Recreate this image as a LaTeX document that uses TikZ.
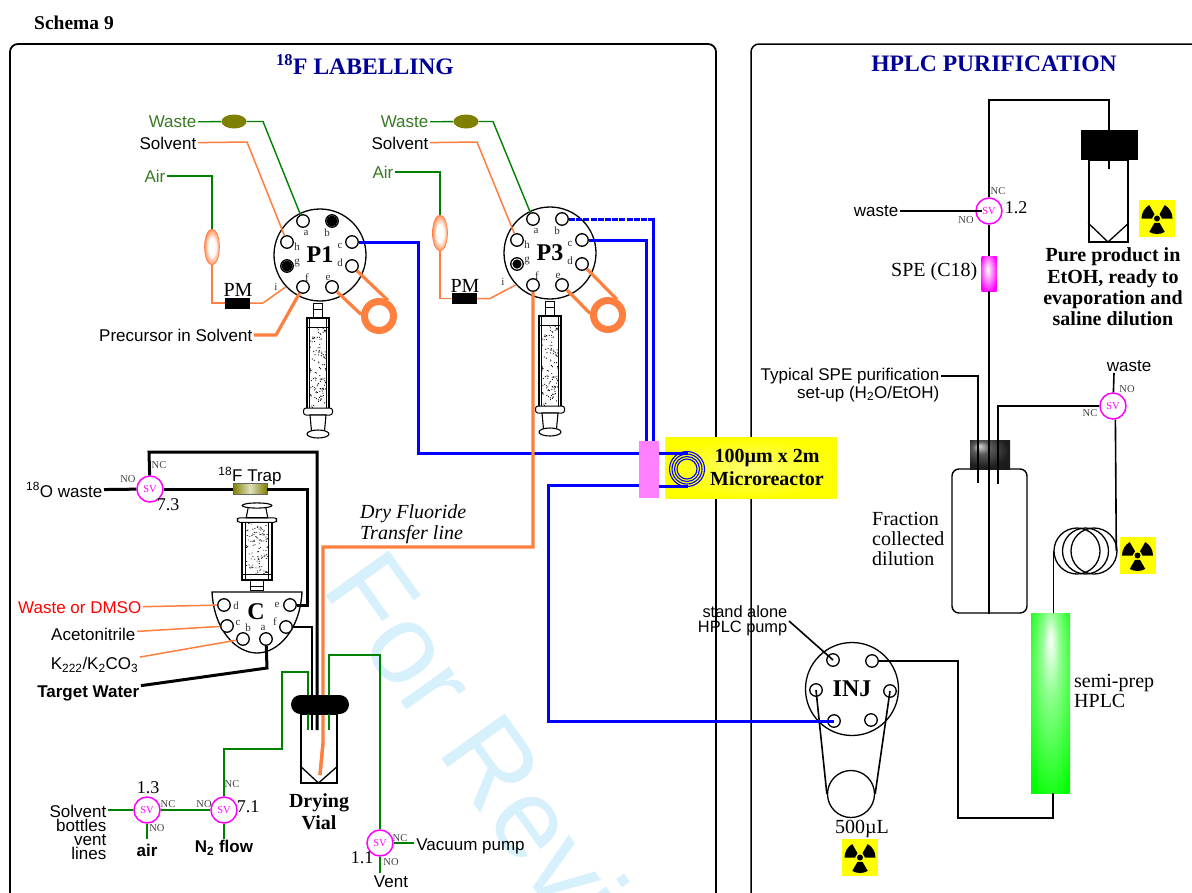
\documentclass[tikz,border=0pt]{standalone}
\usepackage{fontspec}
\setmainfont{Liberation Serif}
\setsansfont{Liberation Sans}
\usetikzlibrary{shapes.geometric}
\definecolor{pipeorange}{RGB}{255,127,63}
\definecolor{pipegreen}{RGB}{0,128,0}
\definecolor{labgreen}{RGB}{56,122,36}
\definecolor{wasteolive}{RGB}{128,128,0}
\definecolor{titleblue}{RGB}{0,0,153}
\definecolor{pinkblock}{RGB}{255,128,255}
\definecolor{stampblue}{RGB}{214,240,252}
\definecolor{svpink}{RGB}{255,0,255}
\definecolor{signyellow}{RGB}{255,255,0}
\newcommand{\pxfont}[2]{\fontsize{#1}{#2}\selectfont}
\pgfdeclareradialshading{columnglow}{\pgfpoint{0bp}{18bp}}{color(0bp)=(white); color(12bp)=(green!45!white); color(36bp)=(green); color(50bp)=(green)}
\pgfdeclareradialshading{capglow}{\pgfpoint{-14bp}{15bp}}{color(0bp)=(white!85!black); color(11bp)=(black!65); color(28bp)=(black!88); color(50bp)=(black!92)}
\pgfdeclareradialshading{speglow}{\pgfpoint{-5bp}{6bp}}{color(0bp)=(white); color(16bp)=(svpink!50!white); color(30bp)=(svpink); color(50bp)=(svpink)}
\pgfdeclareradialshading{ovalglow}{\pgfpoint{0bp}{0bp}}{color(0bp)=(white); color(12bp)=(white); color(27bp)=(pipeorange); color(50bp)=(pipeorange)}
\tikzset{
  sanslab/.style={font=\sffamily\pxfont{17}{14},inner sep=1.5pt,align=right},
  seriflab/.style={font=\pxfont{20}{20},inner sep=1.5pt,align=left},
  boldlab/.style={font=\bfseries\pxfont{20}{21.5},inner sep=0pt,align=center},
  tag/.style={font=\pxfont{10.5}{10.5},inner sep=0pt,text=black!75},
  svnum/.style={font=\pxfont{18}{18},inner sep=0pt},
  valve/.style={circle,draw,line width=1.3,fill=white,minimum size=92,inner sep=0pt,font=\bfseries\pxfont{24}{24}},
  port/.style={circle,draw,line width=1.3,fill=white,minimum size=12.5,inner sep=0pt},
  portlet/.style={font=\pxfont{11}{11},inner sep=0pt,text=black!80},
  sv/.style={circle,draw=svpink,line width=1.5,fill=white,minimum size=26,inner sep=0pt,text=svpink,font=\pxfont{10.5}{10.5}},
  thinorange/.style={draw=pipeorange,line width=1.5},
  thickorange/.style={draw=pipeorange,line width=3.2},
  greenpipe/.style={draw=pipegreen,line width=1.4},
  bluepipe/.style={draw=blue,line width=3},
  blackpipe/.style={draw=black,line width=1.6},
  fatpipe/.style={draw=black,line width=3},
  pmblock/.style={fill=black,minimum width=25,minimum height=11,inner sep=0pt},
  oliveoval/.style={ellipse,fill=wasteolive,minimum width=25,minimum height=14,inner sep=0pt},
  airoval/.style={ellipse,draw=pipeorange,line width=.6,shading=ovalglow,minimum width=15,minimum height=36,inner sep=0pt},
  ring/.style={circle,draw=pipeorange,line width=7,minimum size=29,inner sep=0pt},
  capblock/.style={fill=black,inner sep=0pt},
  pics/syringe/.style={code={
    \pgfmathsetseed{11}
    \draw[line width=.9,fill=white] (-4.5,0) rectangle (4.5,15);
    \draw[line width=.6] (-4.5,6) -- (4.5,6);
    \draw[line width=1.7,fill=white] (-11,15) rectangle (11,107);
    \draw[line width=.8] (-8.5,15) -- (-8.5,107) (8.5,15) -- (8.5,107) (-11,24) -- (11,24);
    \foreach \i in {1,...,115} \fill ({8*rand},{65+40*rand}) circle (.6);
    \draw[line width=1,fill=white,rounded corners=2.5] (-14.5,105) rectangle (14.5,112);
    \draw[line width=1.1,fill=white] (-8,112) -- (-6.5,128) -- (6.5,128) -- (8,112) -- cycle;
    \draw[line width=1.1,fill=white] (0,131) ellipse (11 and 4);
  }},
  pics/radsign/.style={code={
    \begin{scope}[x=1pt,y=1pt]
      \fill[signyellow] (-18,-18.5) rectangle (18,18.5);
      \foreach \a in {30,150,270}
        \fill (\a-30:5) -- (\a-30:15.5) arc[start angle=\a-30,end angle=\a+30,radius=15.5] -- (\a+30:5) -- cycle;
      \fill (0,0) circle (3);
    \end{scope}
  }}
}
\begin{document}
\begin{tikzpicture}[x=1pt,y=-1pt]
  \useasboundingbox (0,0) rectangle (1192,892);
  \clip (0,0) rectangle (1192,892);
  \fill[white] (0,0) rectangle (1192,892);
  \node[rotate=-54.5,anchor=base west,inner sep=0pt,text=stampblue,font=\sffamily\pxfont{113}{113}] (stamp) at (320,588) {For Revi};
  \draw[line width=1.8,rounded corners=8] (10,44) rectangle (716,960);
  \draw[line width=1.5,rounded corners=8] (751,44) rectangle (1300,960);
  \node[anchor=west,inner sep=0pt,font=\bfseries\pxfont{19.5}{19.5}] (schema) at (34,23) {Schema 9};
  \node[text=titleblue,inner sep=0pt,font=\bfseries\pxfont{23.6}{23.6}] (titleL) at (365,65) {\textsuperscript{18}F LABELLING};
  \node[text=titleblue,inner sep=0pt,font=\bfseries\pxfont{23.6}{23.6}] (titleR) at (994,64) {HPLC PURIFICATION};

  % the two eight port valves
  \foreach \v/\cx/\cy in {P1/320/255,P3/550/253} {
    \node[valve] (\v) at (\cx,\cy) {\v};
    \foreach \p/\dx/\dy/\lx/\ly in {a/-17/-34/-14/-22,b/12/-34/7/-22,c/32/-13/20/-9,d/32/11/20/8,e/12/32/8/23,f/-17/32/-13/23,g/-33/11/-23/8,h/-33/-13/-23/-8} {
      \node[port] (\v\p) at ({\cx+\dx},{\cy+\dy}) {};
      \node[portlet] (\v\p txt) at ({\cx+\lx},{\cy+\ly}) {\p};
    }
  }
  \node[portlet] (P1itxt) at (276,287) {i};
  \node[portlet] (P3itxt) at (503,282) {i};
  \fill (P1b) circle (5.6);
  \fill (P1g) circle (5.6);
  \fill (P3g) circle (4.6);

  % P1 lines
  \node[sanslab,anchor=east,text=labgreen] (wasteA) at (198,122) {Waste};
  \node[sanslab,anchor=east] (solvA) at (198,143) {Solvent};
  \node[sanslab,anchor=east,text=labgreen] (airA) at (167,176) {Air};
  \node[oliveoval] (oliveA) at (234,121.5) {};
  \node[airoval] (ovalA) at (212,247) {};
  \node[pmblock] (pmA) at (237.5,303) {};
  \node[font=\pxfont{20}{20},inner sep=0pt] (pmtxtA) at (238,290) {PM};
  \node[sanslab,anchor=east] (precA) at (254,335) {Precursor in Solvent};
  \node[ring] (ringA) at (379,316) {};
  \draw[greenpipe] (wasteA) -- (oliveA) -- (263,121.5) -- (P1a);
  \draw[thinorange] (solvA) -- (247,142) -- (P1h);
  \draw[greenpipe] (airA) -- (212,176) -- (ovalA);
  \draw[thinorange] (ovalA) -- (212,303) -- (pmA);
  \draw[thinorange] (pmA) -- (263,303) -- (P1.223);
  \draw[thickorange] (precA) -- (276,335) -- (P1f);
  \draw[thickorange] (P1d) -- (ringA.60);
  \draw[thickorange] (P1e) -- (ringA.175);

  % P3 lines
  \node[sanslab,anchor=east,text=labgreen] (wasteB) at (430,122) {Waste};
  \node[sanslab,anchor=east] (solvB) at (430,143) {Solvent};
  \node[sanslab,anchor=east,text=labgreen] (airB) at (395,172) {Air};
  \node[oliveoval] (oliveB) at (466,121.5) {};
  \node[airoval] (ovalB) at (440,233) {};
  \node[pmblock] (pmB) at (464.5,298.5) {};
  \node[font=\pxfont{20}{20},inner sep=0pt] (pmtxtB) at (465,286) {PM};
  \node[ring] (ringB) at (608,315) {};
  \draw[greenpipe] (wasteB) -- (oliveB) -- (493,121.5) -- (P3a);
  \draw[thinorange] (solvB) -- (477,142) -- (P3h);
  \draw[greenpipe] (airB) -- (440,172) -- (ovalB);
  \draw[thinorange] (ovalB) -- (440,298.5) -- (pmB);
  \draw[thinorange] (pmB) -- (490,298.5) -- (P3.223);
  \draw[thickorange] (P3d) -- (ringB.60);
  \draw[thickorange] (P3e) -- (ringB.175);

  % syringes
  \pic at (318,303) {syringe};
  \pic at (550,301) {syringe};
  \pic[xscale=1.35,yscale=-.645] at (257,590) {syringe};

  % microreactor
  \node[minimum width=171,minimum height=61,inner sep=0pt,inner color=signyellow!55!white,outer color=signyellow] (reactor) at (751,468) {};
  \node[align=center,inner sep=0pt,font=\bfseries\pxfont{20}{23}] (reactortxt) at (767,467) {100µm x 2m\\Microreactor};
  \node[fill=pinkblock,minimum width=20,minimum height=57,inner sep=0pt] (pink) at (649,469.5) {};
  \coordinate (pinkB) at (653,441);
  \coordinate (pinkC) at (646,441);
  \coordinate (pinkU) at (639,453);
  \coordinate (pinkL) at (639,485);
  \coordinate (coilU) at (688,453);
  \coordinate (coilL) at (688,486);
  \draw[bluepipe] (P1c) -- (418,242) -- (418,453) -- (pinkU);
  \draw[bluepipe] (P3c) -- (646,240) -- (pinkC);
  \draw[bluepipe,dash pattern=on 6pt off 1.2pt] (P3b) -- (653,219);
  \draw[bluepipe] (653,217.5) -- (pinkB);
  \node[fill=pinkblock,minimum width=20,minimum height=57,inner sep=0pt] (pinktop) at (649,469.5) {};
  \draw[bluepipe] (659,453) -- (coilU);
  \draw[bluepipe] (659,486) -- (coilL);
  \foreach \r in {17.5,15,12.5,10} \draw[blue,line width=1.1] (687,469) circle (\r);

  % C valve and the trap
  \draw[line width=1.3,fill=white] (212,592) .. controls (214,630) and (236,653) .. (257,653) .. controls (278,653) and (300,630) .. (302,592) -- cycle;
  \node[inner sep=0pt,font=\bfseries\pxfont{24}{24}] (C) at (256,612) {C};
  \foreach \p/\px/\py/\lx/\ly in {d/224/605/236/606,e/290/605/277/605,c/227/626/238/623,f/286/627/275/622,b/243/639/248/628,a/266/639/263/628} {
    \node[port] (C\p) at (\px,\py) {};
    \node[portlet] (C\p txt) at (\lx,\ly) {\p};
  }
  \node[sanslab,anchor=east,text=red] (dmso) at (143,608) {Waste or DMSO};
  \node[sanslab,anchor=east] (acn) at (137,634) {Acetonitrile};
  \node[sanslab,anchor=east] (kryp) at (140,665) {K\textsubscript{222}/K\textsubscript{2}CO\textsubscript{3}};
  \node[sanslab,anchor=east,font=\sffamily\bfseries\pxfont{17}{17}] (target) at (141,693) {Target Water};
  \draw[thinorange] (dmso) -- (Cd);
  \draw[thinorange] (acn) -- (Cc);
  \draw[thinorange] (kryp) -- (Cb);
  \draw[fatpipe] (target) -- (267,668) -- (Ca);

  \node[sv] (sv73) at (150,489) {SV};
  \node[sanslab,anchor=east] (owaste) at (104,490) {\textsuperscript{18}O waste};
  \node[minimum width=34,minimum height=11,inner sep=0pt,draw=black!60,line width=.4,shading=axis,left color=wasteolive,right color=wasteolive,middle color=wasteolive!25!white] (trap) at (250,489) {};
  \node[font=\sffamily\pxfont{17}{17},inner sep=0pt] (traptxt) at (250,476) {\textsuperscript{18}F Trap};
  \node[tag] (sv73nc) at (159,465) {NC};
  \node[tag] (sv73no) at (128,479) {NO};
  \node[svnum] (sv73num) at (168,505) {7.3};
  \coordinate (dryA) at (312,730);
  \coordinate (dryB) at (317,730);
  \draw[fatpipe] (owaste) -- (sv73);
  \draw[fatpipe] (sv73) -- (trap);
  \draw[fatpipe] (trap) -- (307,489) -- (307,605) -- (Ce);
  \draw[fatpipe] (sv73) -- (149,452) -- (317,452) -- (dryB);
  \draw[blackpipe] (Cf) -- (312,627) -- (dryA);

  % dry fluoride line and vial
  \coordinate (dryO) at (323,743);
  \coordinate (dryG) at (308,730);
  \coordinate (dryH) at (329,730);
  \draw[thickorange] (P3f) -- (533,547) -- (323,547) -- (dryO) -- (320,775);
  \node[font=\itshape\pxfont{20}{21},inner sep=0pt,align=left,anchor=west] (drytxt) at (360,524.5) {Dry Fluoride\\Transfer line};
  \node[draw,line width=1.6,minimum width=36,minimum height=69,inner sep=0pt] (dryvial) at (319,748.5) {};
  \draw[line width=1.3] (dryvial.west |- 319,766) -- (318.5,783) -- (dryvial.east |- 319,766);
  \draw[thickorange] (dryO) -- (320,775);
  \node[sv] (sv71) at (224,810) {SV};
  \node[sv] (sv13) at (147,810) {SV};
  \node[sv] (sv11) at (380,843) {SV};
  \draw[greenpipe] (sv71) -- (224,749) -- (282,749) -- (282,672) -- (308,672) -- (dryG);
  \draw[greenpipe] (sv11) -- (380,655) -- (329,655) -- (dryH);
  \node[capblock,rounded corners=9.5,minimum width=58,minimum height=19] (drycap) at (320,704.5) {};
  \node[boldlab] (drytitle) at (319,811.5) {Drying\\Vial};

  % solenoid valves at the bottom
  \node[sanslab,anchor=east] (bottles) at (108,832) {Solvent\\bottles\\vent\\lines};
  \node[font=\sffamily\bfseries\pxfont{17}{17},inner sep=0pt] (airC) at (147,850) {air};
  \node[font=\sffamily\bfseries\pxfont{17}{17},inner sep=0pt] (n2) at (224,848) {N\textsubscript{2} flow};
  \node[sanslab] (vacuum) at (470.5,846) {Vacuum pump};
  \node[sanslab] (vent) at (391,882) {Vent};
  \coordinate (sv13s) at (147,839);
  \coordinate (sv71s) at (224,839);
  \coordinate (sv11e) at (414,843);
  \coordinate (sv11s) at (380,873);
  \draw[greenpipe] (bottles.east |- sv13) -- (sv13);
  \draw[greenpipe] (sv13) -- (sv71);
  \draw[greenpipe] (sv13) -- (sv13s);
  \draw[greenpipe] (sv71) -- (sv71s);
  \draw[greenpipe] (sv11) -- (sv11e);
  \draw[greenpipe] (sv11) -- (sv11s);
  \node[svnum] (sv13num) at (148,788) {1.3};
  \node[tag] (sv13nc) at (168,804) {NC};
  \node[tag] (sv13no) at (157,828) {NO};
  \node[svnum] (sv71num) at (248,807) {7.1};
  \node[tag] (sv71nc) at (232,784) {NC};
  \node[tag] (sv71no) at (204,804) {NO};
  \node[svnum] (sv11num) at (362,858) {1.1};
  \node[tag] (sv11nc) at (400,838) {NC};
  \node[tag] (sv11no) at (391,862) {NO};

  % HPLC side
  \node[sv] (svA) at (989,211) {SV};
  \node[sanslab,anchor=east] (wasteC) at (900,211) {waste};
  \node[tag] (svAnc) at (998,191) {NC};
  \node[tag] (svAno) at (966,220) {NO};
  \node[svnum] (svAnum) at (1016,208) {1.2};
  \node[minimum width=15,minimum height=35,inner sep=0pt,shading=speglow] (spe) at (989,273.5) {};
  \node[seriflab,anchor=east] (spetxt) at (979,272) {SPE (C18)};
  \coordinate (inSVA) at (982,211);
  \coordinate (pureS) at (1109,169);
  \node[draw,line width=1.6,minimum width=39,minimum height=82,inner sep=0pt] (purevial) at (1108.5,201) {};
  \draw[line width=1.3] (purevial.west |- 1109,223) -- (1108,242) -- (purevial.east |- 1109,223);
  \draw[blackpipe] (svA) -- (989,100) -- (1109,100) -- (pureS);
  \node[capblock,minimum width=57,minimum height=30] (purecap) at (1109.5,145) {};
  \draw[blackpipe] (purecap) -- (pureS);
  \draw[blackpipe] (wasteC) -- (inSVA);
  \draw[blackpipe] (svA) -- (spe);
  \node[boldlab,font=\bfseries\pxfont{20}{21.3}] (puretxt) at (1113,287) {Pure product in\\EtOH, ready to\\evaporation and\\saline dilution};
  \pic at (1157,218.5) {radsign};

  \node[draw,line width=1.4,rounded corners=7,minimum width=75,minimum height=144,inner sep=0pt] (collect) at (989.5,541) {};
  \node[minimum width=40,minimum height=29,inner sep=0pt,shading=capglow] (collectcap) at (990,454.5) {};
  \node[sanslab,anchor=east,font=\sffamily\pxfont{17}{18}] (typical) at (941,385) {Typical SPE purification\\set-up (H\textsubscript{2}O/EtOH)};
  \coordinate (collectA) at (978,483);
  \coordinate (collectD) at (998,484);
  \node[seriflab,anchor=west,inner sep=0pt] (fraction) at (872,539) {Fraction\\collected\\dilution};
  \draw[blackpipe] (typical.east |- 0,376) -- (978,376) -- (collectA);
  \draw[blackpipe] (spe) -- (spe |- collect.south);

  \node[sv] (svB) at (1113,406) {SV};
  \node[sanslab] (wasteD) at (1129,366) {waste};
  \node[tag] (svBno) at (1127,389) {NO};
  \node[tag] (svBnc) at (1090,413) {NC};
  \coordinate (wasteDs) at (1114,373);
  \draw[blackpipe] (svB) -- (wasteDs);
  \draw[blackpipe] (svB) -- (998,406) -- (collectD);
  \foreach \c/\cx in {A/1077,B/1085.5,C/1094}
    \node[circle,draw,line width=1.3,minimum size=46,inner sep=0pt] (coil\c) at (\cx,551) {};
  \draw[blackpipe] (svB.-80) -- (1116.3,551);
  \node[minimum width=39,minimum height=180,inner sep=0pt,shading=columnglow] (column) at (1050.5,703) {};
  \draw[blackpipe] (coilA.west) -- (coilA.west |- column.north);
  \node[seriflab,anchor=west,inner sep=0pt] (columntxt) at (1074,691) {semi-prep\\HPLC};
  \pic at (1137.5,555.5) {radsign};

  % injector
  \node[valve,minimum size=93] (INJ) at (852,689) {INJ};
  \foreach \p/\dx/\dy in {1/-19/-29,2/20/-28,3/-36/1,4/38/2,5/-18/32,6/19/31}
    \node[port] (INJ\p) at ({852+\dx},{689+\dy}) {};
  \node[circle,draw,line width=1.3,minimum size=47,inner sep=0pt] (loop) at (851,794) {};
  \draw[blackpipe] (INJ3.center) -- (loop.west);
  \draw[blackpipe] (INJ4.center) -- (loop.east);
  \draw[blackpipe] (INJ2) -- (958,661) -- (958,818) -- (1053,818) -- (1053,793);
  \node[sanslab,font=\sffamily\pxfont{16.4}{15},anchor=east] (pump) at (789,621) {stand alone\\HPLC pump};
  \draw[blackpipe] (pump.east) -- (INJ1.center);
  \draw[bluepipe] (pinkL) -- (548,485) -- (548,721) -- (INJ5.center);
  \node[seriflab,inner sep=0pt] (loopvol) at (862,829) {500µL};
  \pic at (860,857.5) {radsign};
\end{tikzpicture}
\end{document}
